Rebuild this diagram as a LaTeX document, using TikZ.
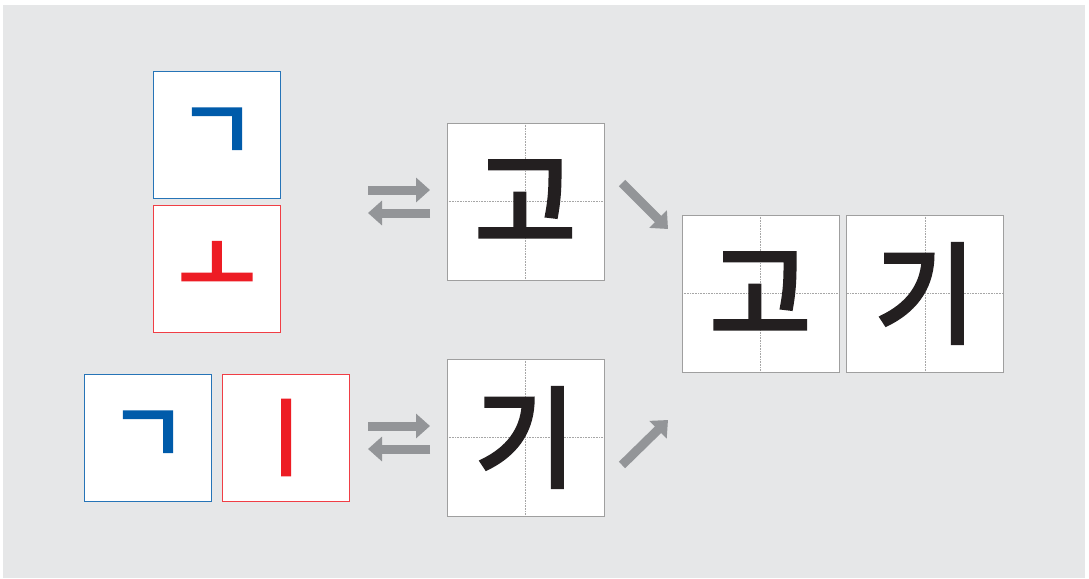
\documentclass[tikz,border=0pt]{standalone}
\usepackage{fontspec}
\newfontfamily\kor{Noto Sans CJK KR}[FakeBold=3.5]
\usetikzlibrary{positioning, arrows.meta}
\definecolor{bgray}{HTML}{E6E7E8}
\definecolor{jblue}{HTML}{005BAA}
\definecolor{jred}{HTML}{ED1C24}
\definecolor{agray}{HTML}{939598}
\definecolor{ink}{HTML}{231F20}
\tikzset{
  jamo/.style   = {rectangle, draw, fill=white, line width=0.8pt, minimum size=127pt, inner sep=0pt, font=\kor\fontsize{84}{84}\selectfont},
  cho/.style    = {jamo, draw=jblue!85, text=jblue},
  jung/.style   = {jamo, draw=jred!85, text=jred},
  guide/.style  = {gray!70, densely dotted, line width=0.6pt},
  syll/.style   = {rectangle, draw=gray!75, fill=white, line width=0.8pt, minimum size=157pt, inner sep=0pt, text=ink,
                   font=\kor\fontsize{110}{110}\selectfont,
                   path picture={\draw[guide] (path picture bounding box.north) -- (path picture bounding box.south)
                                              (path picture bounding box.west) -- (path picture bounding box.east);}},
  fat/.style    = {agray, line width=9pt, -{Triangle[length=14pt, width=24pt]}}
}

\begin{document}
\begin{tikzpicture}[x=1pt, y=-1pt, node distance=7pt and 10pt]

  \useasboundingbox (0,0) rectangle (1089,578);
  \fill[bgray] (3,5) rectangle (1085,578);

  % jamo for 고
  \node[cho] (giyeok)  at (217,134.5) {ㄱ};
  \node[jung, below=of giyeok] (o) {ㅗ};

  % jamo for 기
  \node[cho] (giyeokb) at (148,437.5) {ㄱ};
  \node[jung, right=of giyeokb] (i) {ㅣ};

  % syllables
  \node[syll] (go) at (525.5,201.5) {고};
  \node[syll] (gi) at (525.5,437.5) {기};

  % word
  \node[syll] (wgo) at (760.5,293.5) {고};
  \node[syll, right=of wgo, xshift=-3pt] (wgi) {기};

  % arrows
  \coordinate (ra) at (368,190);  \coordinate (rb) at (430,190);
  \coordinate (la) at (430,213);  \coordinate (lb) at (368,213);
  \coordinate (rc) at (368,426);  \coordinate (rd) at (430,426);
  \coordinate (lc) at (430,449);  \coordinate (ld) at (368,449);
  \coordinate (da) at (622,183);  \coordinate (db) at (668,229);
  \coordinate (ua) at (622,465);  \coordinate (ub) at (668,420);

  \draw[fat] (ra) -- (rb);
  \draw[fat] (la) -- (lb);
  \draw[fat] (rc) -- (rd);
  \draw[fat] (lc) -- (ld);
  \draw[fat] (da) -- (db);
  \draw[fat] (ua) -- (ub);

\end{tikzpicture}
\end{document}
